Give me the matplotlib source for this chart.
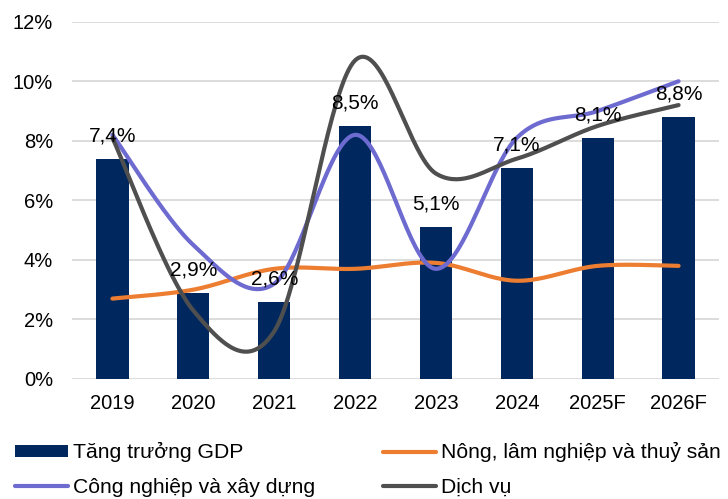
"""GDP growth by sector, Vietnam 2019-2026F."""

import matplotlib

matplotlib.use("Agg")
import matplotlib.pyplot as plt
import numpy as np

plt.rcParams["font.family"] = ["Liberation Sans", "DejaVu Sans"]

years = ["2019", "2020", "2021", "2022", "2023", "2024", "2025F", "2026F"]
gdp = [7.4, 2.9, 2.6, 8.5, 5.1, 7.1, 8.1, 8.8]
agri = [2.7, 3.0, 3.7, 3.7, 3.9, 3.3, 3.8, 3.8]
industry = [8.2, 4.5, 3.2, 8.2, 3.7, 8.1, 9.0, 10.0]
services = [8.1, 2.3, 1.6, 10.7, 6.9, 7.4, 8.5, 9.2]

NAVY = "#00285E"
ORANGE = "#ED7D31"
PURPLE = "#6D6AD0"
GRAY = "#4F4F4F"
GRID = "#D9D9D9"


def smooth(y, steps=40):
    """Excel-like smoothed line (Catmull-Rom Bezier through the points)."""
    y = np.asarray(y, dtype=float)
    x = np.arange(len(y), dtype=float)
    xs, ys = [], []
    n = len(y)
    for i in range(n - 1):
        i0, i3 = max(i - 1, 0), min(i + 2, n - 1)
        p0 = np.array([x[i], y[i]])
        p3 = np.array([x[i + 1], y[i + 1]])
        c1 = p0 + (np.array([x[i + 1], y[i + 1]]) - np.array([x[i0], y[i0]])) / 6
        c2 = p3 - (np.array([x[i3], y[i3]]) - np.array([x[i], y[i]])) / 6
        t = np.linspace(0, 1, steps)[:, None]
        pts = ((1 - t) ** 3) * p0 + 3 * ((1 - t) ** 2) * t * c1 \
            + 3 * (1 - t) * t ** 2 * c2 + t ** 3 * p3
        xs.extend(pts[:, 0])
        ys.extend(pts[:, 1])
    return np.array(xs), np.array(ys)


fig = plt.figure(figsize=(7.28, 4.99), dpi=100)
ax = fig.add_axes([72 / 728, 1 - 379 / 499, (719 - 72) / 728, (379 - 21.7) / 499])

x = np.arange(len(years))
bars = ax.bar(x, gdp, width=0.4, color=NAVY, zorder=2, label="Tăng trưởng GDP")

lines = {}
for name, vals, col in [
    ("Nông, lâm nghiệp và thuỷ sản", agri, ORANGE),
    ("Công nghiệp và xây dựng", industry, PURPLE),
    ("Dịch vụ", services, GRAY),
]:
    sx, sy = smooth(vals)
    (ln,) = ax.plot(sx, sy, color=col, lw=3, solid_capstyle="round", zorder=3, label=name)
    lines[name] = ln

for xi, v in zip(x, gdp):
    ax.annotate(f"{v:.1f}%".replace(".", ","), (xi, v), xytext=(0, 16.5),
                textcoords="offset points", ha="center", va="center",
                fontsize=15, color="black", zorder=5)

ax.set_xlim(-0.5, len(years) - 0.5)
ax.set_ylim(0, 12)
ax.set_yticks(np.arange(0, 13, 2))
ax.set_yticklabels([f"{t}%" for t in range(0, 13, 2)])
ax.set_xticks(x)
ax.set_xticklabels(years)
ax.tick_params(axis="both", length=0, labelsize=14.5, colors="black")
ax.tick_params(axis="y", pad=13.5)
ax.tick_params(axis="x", pad=11)
ax.grid(axis="y", color=GRID, lw=1.3, zorder=0)
ax.set_axisbelow(True)
for s in ax.spines.values():
    s.set_visible(False)

common = dict(loc="center left", frameon=False, fontsize=15.2, handlelength=2.5,
              handletextpad=0.27, labelspacing=0.72, borderpad=0, borderaxespad=0,
              handleheight=0.45)
leg1 = fig.legend([bars, lines["Công nghiệp và xây dựng"]],
                  ["Tăng trưởng GDP", "Công nghiệp và xây dựng"],
                  bbox_to_anchor=(15 / 728, 1 - 469.5 / 499), **common)
leg2 = fig.legend([lines["Nông, lâm nghiệp và thuỷ sản"], lines["Dịch vụ"]],
                  ["Nông, lâm nghiệp và thuỷ sản", "Dịch vụ"],
                  bbox_to_anchor=(383 / 728, 1 - 469.5 / 499), **common)

fig.savefig("out.png", dpi=100)
